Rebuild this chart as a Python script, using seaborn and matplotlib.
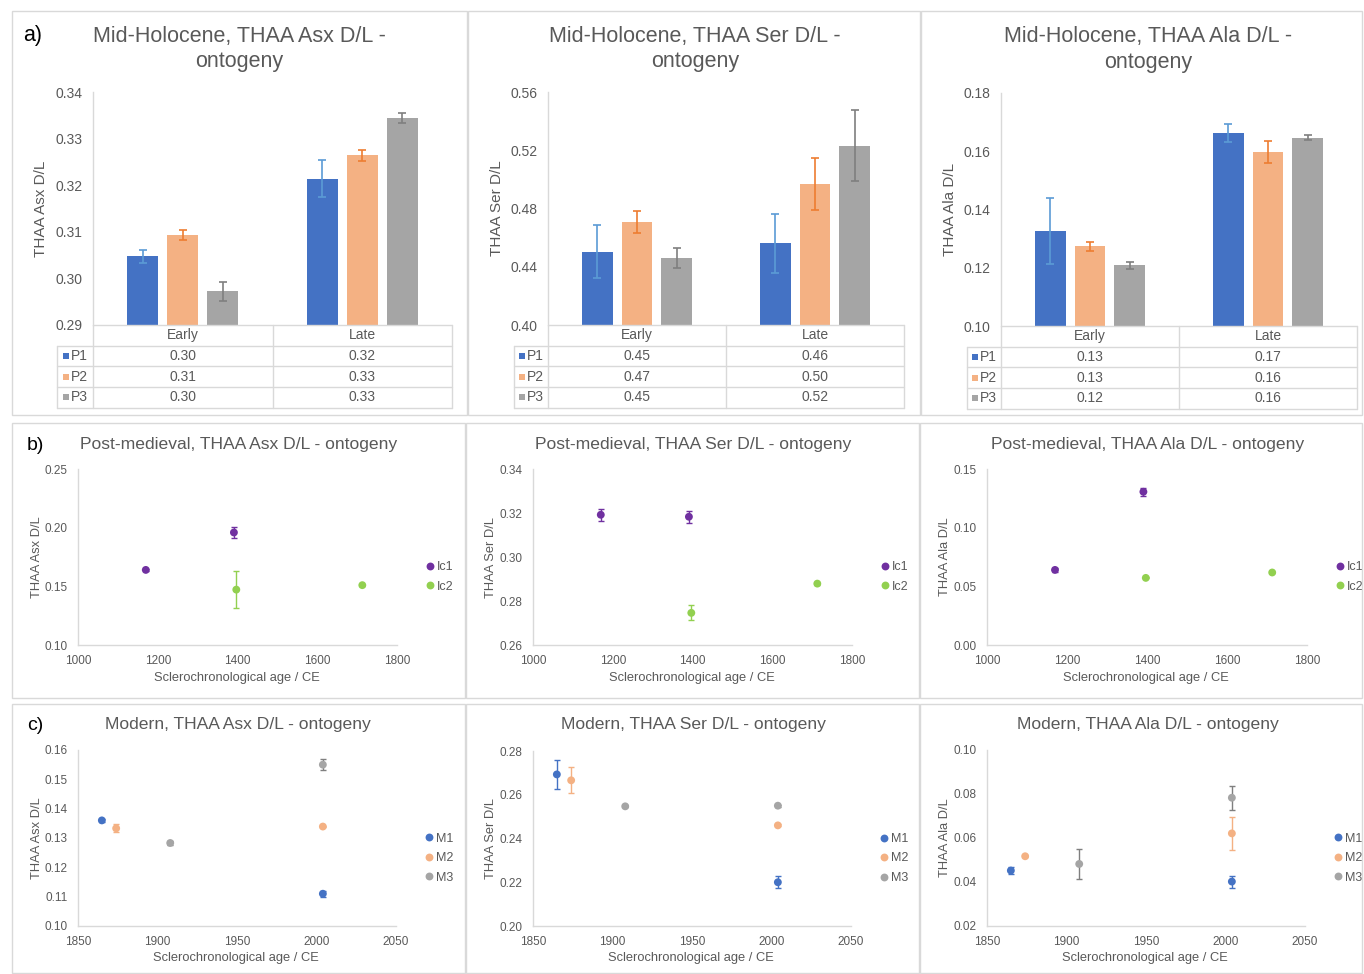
import numpy as np
import pandas as pd
import matplotlib
matplotlib.use("Agg")
import matplotlib.pyplot as plt
import seaborn as sns
from matplotlib.patches import Rectangle
from matplotlib.lines import Line2D

# ---------------- data ----------------
stages = ["Early", "Late"]
profiles = ["P1", "P2", "P3"]

# Mid-Holocene (rows: P1, P2, P3; cols: Early, Late)
mh_asx_mean = [[0.3048, 0.3214], [0.3093, 0.3264], [0.2972, 0.3344]]
mh_asx_err = [[0.0014, 0.0040], [0.0010, 0.0011], [0.0021, 0.0010]]
mh_ser_mean = [[0.4503, 0.4560], [0.4709, 0.4967], [0.4457, 0.5232]]
mh_ser_err = [[0.0183, 0.0203], [0.0075, 0.0180], [0.0069, 0.0246]]
mh_ala_mean = [[0.1327, 0.1663], [0.1274, 0.1598], [0.1208, 0.1647]]
mh_ala_err = [[0.0114, 0.0031], [0.0016, 0.0038], [0.0012, 0.0009]]

# Post-medieval
pm_shell = ["Ic1", "Ic1", "Ic2", "Ic2"]
pm_age = [1170, 1391, 1397, 1713]
pm_asx = [0.1640, 0.1959, 0.1472, 0.1510]
pm_asx_err = [0.0010, 0.0044, 0.0157, 0.0005]
pm_ser = [0.3192, 0.3183, 0.2746, 0.2879]
pm_ser_err = [0.0027, 0.0027, 0.0034, 0.0005]
pm_ala = [0.0640, 0.1306, 0.0572, 0.0618]
pm_ala_err = [0.0020, 0.0033, 0.0005, 0.0005]

# Modern
mod_shell = ["M1", "M1", "M2", "M2", "M3", "M3"]
mod_age = [1865, 2004, 1874, 2004, 1908, 2004]
mod_asx = [0.1360, 0.1110, 0.1333, 0.1339, 0.1283, 0.1550]
mod_asx_err = [0.0006, 0.0010, 0.0014, 0.0003, 0.0008, 0.0018]
mod_ser = [0.2693, 0.2200, 0.2666, 0.2460, 0.2547, 0.2550]
mod_ser_err = [0.0067, 0.0028, 0.0060, 0.0005, 0.0005, 0.0005]
mod_ala = [0.0452, 0.0402, 0.0517, 0.0621, 0.0482, 0.0783]
mod_ala_err = [0.0015, 0.0027, 0.0005, 0.0074, 0.0068, 0.0055]

# ---------------- style ----------------
sns.set_theme(style="white")
plt.rcParams["font.family"] = ["Liberation Sans", "DejaVu Sans"]

TXT = "#595959"
LINE = "#D9D9D9"
bar_colors = {"P1": "#4472C4", "P2": "#F4B183", "P3": "#A5A5A5"}
bar_err_colors = {"P1": "#5B9BD5", "P2": "#ED7D31", "P3": "#7F7F7F"}
pm_colors = {"Ic1": "#7030A0", "Ic2": "#92D050"}
mod_colors = {"M1": "#4472C4", "M2": "#F4B183", "M3": "#A5A5A5"}
mod_err_colors = {"M1": "#4472C4", "M2": "#F4B183", "M3": "#7F7F7F"}

W, H = 1364, 974
fig = plt.figure(figsize=(W / 100, H / 100), dpi=100)
fig.patch.set_facecolor("white")


def fx(x):
    return x / W


def fy(y):
    return 1 - y / H


def add_ax(l, t, r, b):
    return fig.add_axes([fx(l), fy(b), (r - l) / W, (b - t) / H])


def fline(xs, ys, color=LINE, lw=1.0):
    fig.add_artist(Line2D([fx(x) for x in xs], [fy(y) for y in ys],
                          transform=fig.transFigure, color=color, lw=lw))


def ftext(x, y, s, **kw):
    kw.setdefault("color", TXT)
    kw.setdefault("ha", "center")
    kw.setdefault("va", "center")
    fig.text(fx(x), fy(y), s, **kw)


# panel borders
borders = [(12, 11, 467, 415), (468, 11, 920, 415), (921, 11, 1362, 415),
           (12, 423, 465, 698), (466, 423, 919, 698), (920, 423, 1362, 698),
           (12, 704, 465, 973), (466, 704, 919, 973), (920, 704, 1362, 973)]
for (l, t, r, b) in borders:
    fig.add_artist(Rectangle((fx(l), fy(b)), (r - l) / W, (b - t) / H,
                             transform=fig.transFigure, fill=False,
                             edgecolor=LINE, lw=1.0))


def style_axis(ax, ticksize):
    for s in ["top", "right"]:
        ax.spines[s].set_visible(False)
    for s in ["left", "bottom"]:
        ax.spines[s].set_color(LINE)
        ax.spines[s].set_linewidth(1.0)
    ax.tick_params(axis="both", colors=LINE, labelcolor=TXT, labelsize=ticksize,
                   length=3.5, width=1.0, direction="out", pad=4)
    ax.set_xlabel("")
    ax.set_ylabel("")
    ax.set_facecolor("none")


# ---------------- top row: bar charts with data tables ----------------
def bar_panel(box, means, errs, ylim, yticks, title, title_xy, ylabel, ylabel_x, tbl_left):
    l, t, r, b = box
    ax = add_ax(l, t, r, b)
    df = pd.DataFrame({"stage": np.tile(stages, 3),
                       "profile": np.repeat(profiles, 2),
                       "value": np.ravel(means)})
    sns.barplot(data=df, x="stage", y="value", hue="profile", order=stages,
                hue_order=profiles, palette=bar_colors, saturation=1,
                width=0.668, gap=0.225, errorbar=None, legend=False,
                linewidth=0, ax=ax)
    bar_conts = list(ax.containers)
    for i, cont in enumerate(bar_conts):
        for j, bar in enumerate(cont.patches):
            cx = bar.get_x() + bar.get_width() / 2
            ax.errorbar(cx, bar.get_height(), yerr=errs[i][j], fmt="none",
                        ecolor=bar_err_colors[profiles[i]], elinewidth=1.2,
                        capsize=2.6, capthick=1.2, zorder=3)
    ax.set_xlim(-0.5, 1.5)
    ax.set_ylim(*ylim)
    ax.set_yticks(yticks)
    ax.set_yticklabels([f"{v:.2f}" for v in yticks])
    style_axis(ax, 10)
    ax.tick_params(axis="x", bottom=False, labelbottom=False)
    ax.spines["bottom"].set_visible(False)

    # data table
    rh = 20.7
    xm = (l + r) / 2
    y0 = b
    ys = [y0 + k * rh for k in range(5)]
    fline([l, r], [ys[0], ys[0]])
    for yy in ys[1:]:
        fline([tbl_left, r], [yy, yy])
    fline([tbl_left, tbl_left], [ys[1], ys[4]])
    for xx in [l, xm, r]:
        fline([xx, xx], [ys[0], ys[4]])
    ftext((l + xm) / 2, (ys[0] + ys[1]) / 2, stages[0], fontsize=10)
    ftext((xm + r) / 2, (ys[0] + ys[1]) / 2, stages[1], fontsize=10)
    for i, p in enumerate(profiles):
        yc = (ys[i + 1] + ys[i + 2]) / 2
        fig.add_artist(Rectangle((fx(tbl_left + 5), fy(yc + 3)), 6 / W, 6 / H,
                                 transform=fig.transFigure,
                                 facecolor=bar_colors[p], edgecolor="none"))
        ftext(tbl_left + 13, yc, p, fontsize=10, ha="left")
        ftext((l + xm) / 2, yc, f"{means[i][0]:.2f}", fontsize=10)
        ftext((xm + r) / 2, yc, f"{means[i][1]:.2f}", fontsize=10)

    ftext(title_xy[0], title_xy[1], title, fontsize=15.5, linespacing=1.3)
    ftext(ylabel_x, (t + b) / 2, ylabel, fontsize=11, rotation=90)
    return ax


bar_panel((93, 92, 452, 325), mh_asx_mean, mh_asx_err, (0.29, 0.34),
          [0.29, 0.30, 0.31, 0.32, 0.33, 0.34],
          "Mid-Holocene, THAA Asx D/L -\nontogeny", (239.5, 49),
          "THAA Asx D/L", 41, 57.5)
bar_panel((548, 92, 904, 325), mh_ser_mean, mh_ser_err, (0.40, 0.56),
          [0.40, 0.44, 0.48, 0.52, 0.56],
          "Mid-Holocene, THAA Ser D/L -\nontogeny", (695, 49),
          "THAA Ser D/L", 497, 514)
bar_panel((1001, 93, 1357, 326), mh_ala_mean, mh_ala_err, (0.10, 0.18),
          [0.10, 0.12, 0.14, 0.16, 0.18],
          "Mid-Holocene, THAA Ala D/L -\nontogeny", (1148, 49.5),
          "THAA Ala D/L", 950, 967)


# ---------------- scatter panels ----------------
def scatter_panel(box, ages, vals, errs, shells, order, palette, err_palette,
                  xlim, xticks, ylim, yticks, title, title_xy, ylabel, ylabel_x):
    l, t, r, b = box
    ax = add_ax(l, t, r, b)
    df = pd.DataFrame({"age": ages, "dl": vals, "shell": shells})
    sns.scatterplot(data=df, x="age", y="dl", hue="shell", hue_order=order,
                    palette=palette, s=32, linewidth=0, ax=ax, zorder=3)
    for k in range(len(ages)):
        ax.errorbar(ages[k], vals[k], yerr=errs[k], fmt="none",
                    ecolor=err_palette[shells[k]], elinewidth=1.0,
                    capsize=2.4, capthick=1.0, zorder=2)
    ax.set_xlim(*xlim)
    ax.set_xticks(xticks)
    ax.set_ylim(*ylim)
    ax.set_yticks(yticks)
    ax.set_yticklabels([f"{v:.2f}" for v in yticks])
    style_axis(ax, 8.5)
    sns.move_legend(ax, "center left", bbox_to_anchor=(1.085, 0.386),
                    frameon=False, title="", fontsize=9, handletextpad=0.0,
                    labelspacing=0.6, borderaxespad=0, borderpad=0,
                    handlelength=1.0)
    for txt in ax.get_legend().get_texts():
        txt.set_color(TXT)
    ftext(title_xy[0], title_xy[1], title, fontsize=12.6)
    ftext(ylabel_x, (t + b) / 2, ylabel, fontsize=9.3, rotation=90)
    ftext((l + r) / 2 - 1, b + 32.5, "Sclerochronological age / CE", fontsize=9.3)
    return ax


pm_xt = [1000, 1200, 1400, 1600, 1800]
scatter_panel((78, 469, 397, 645), pm_age, pm_asx, pm_asx_err, pm_shell,
              ["Ic1", "Ic2"], pm_colors, pm_colors, (1000, 1800), pm_xt,
              (0.10, 0.25), [0.10, 0.15, 0.20, 0.25],
              "Post-medieval, THAA Asx D/L - ontogeny", (239, 444.5),
              "THAA Asx D/L", 36.5)
scatter_panel((533, 469, 852, 645), pm_age, pm_ser, pm_ser_err, pm_shell,
              ["Ic1", "Ic2"], pm_colors, pm_colors, (1000, 1800), pm_xt,
              (0.26, 0.34), [0.26, 0.28, 0.30, 0.32, 0.34],
              "Post-medieval, THAA Ser D/L - ontogeny", (693, 444),
              "THAA Ser D/L", 491.5)
scatter_panel((987, 469, 1307, 645), pm_age, pm_ala, pm_ala_err, pm_shell,
              ["Ic1", "Ic2"], pm_colors, pm_colors, (1000, 1800), pm_xt,
              (0.00, 0.15), [0.00, 0.05, 0.10, 0.15],
              "Post-medieval, THAA Ala D/L - ontogeny", (1148, 444),
              "THAA Ala D/L", 944.5)

mod_xt = [1850, 1900, 1950, 2000, 2050]
scatter_panel((78, 750, 396, 926), mod_age, mod_asx, mod_asx_err, mod_shell,
              ["M1", "M2", "M3"], mod_colors, mod_err_colors, (1850, 2050), mod_xt,
              (0.10, 0.16), [0.10, 0.11, 0.12, 0.13, 0.14, 0.15, 0.16],
              "Modern, THAA Asx D/L - ontogeny", (238, 725),
              "THAA Asx D/L", 36.5)
scatter_panel((533, 751, 851, 926), mod_age, mod_ser, mod_ser_err, mod_shell,
              ["M1", "M2", "M3"], mod_colors, mod_err_colors, (1850, 2050), mod_xt,
              (0.20, 0.28), [0.20, 0.22, 0.24, 0.26, 0.28],
              "Modern, THAA Ser D/L - ontogeny", (693.5, 725),
              "THAA Ser D/L", 491.5)
scatter_panel((987, 750, 1305, 926), mod_age, mod_ala, mod_ala_err, mod_shell,
              ["M1", "M2", "M3"], mod_colors, mod_err_colors, (1850, 2050), mod_xt,
              (0.02, 0.10), [0.02, 0.04, 0.06, 0.08, 0.10],
              "Modern, THAA Ala D/L - ontogeny", (1148, 725),
              "THAA Ala D/L", 944.5)

# panel letters
ftext(33, 35, "a)", fontsize=15.5, color="black")
ftext(35, 445, "b)", fontsize=14, color="black")
ftext(35, 725, "c)", fontsize=14, color="black")

fig.savefig("out.png", dpi=100, facecolor="white")
